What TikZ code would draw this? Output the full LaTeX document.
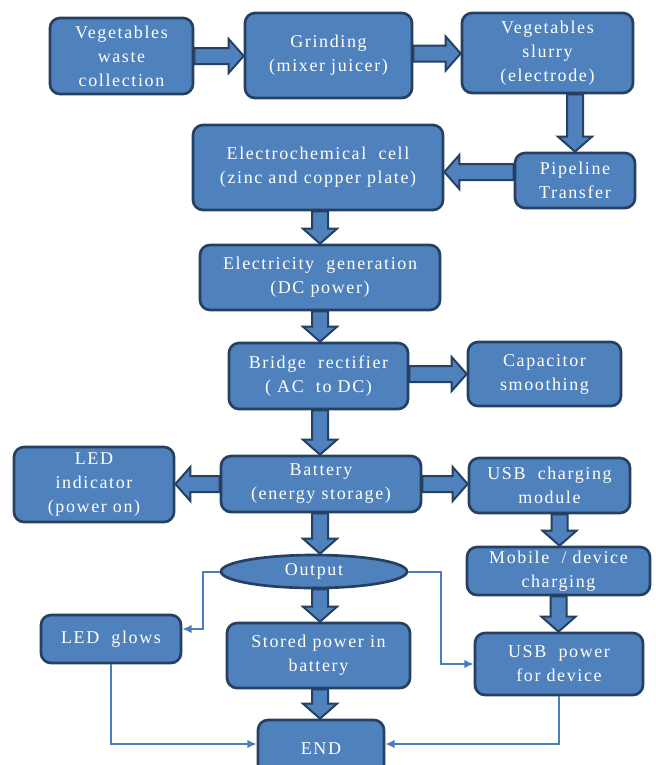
\documentclass[tikz,border=0pt]{standalone}
\usepackage{fontspec}
\newfontfamily\boxfont{Liberation Serif}[LetterSpace=9]
\usetikzlibrary{calc,shapes.geometric,arrows.meta}
\definecolor{boxfill}{HTML}{4F81BD}
\definecolor{boxline}{HTML}{254061}
\definecolor{thinline}{HTML}{4A7EBB}
\newcommand\fatH[2]{%
  \path[fatarrow] let \p1=#1, \p2=#2, \n1={(\x2>\x1)*2-1} in
   (\x1,{\y1+6pt}) -- ({\x2-(\n1)*11.25pt},{\y1+6pt}) -- ({\x2-(\n1)*11.25pt},{\y1+12.75pt})
   -- (\x2,\y1) -- ({\x2-(\n1)*11.25pt},{\y1-12.75pt}) -- ({\x2-(\n1)*11.25pt},{\y1-6pt})
   -- (\x1,{\y1-6pt}) -- cycle;}
\newcommand\fatV[2]{%
  \path[fatarrow] let \p1=#1, \p2=#2, \n1={(\y2>\y1)*2-1} in
   ({\x1+6pt},\y1) -- ({\x1+6pt},{\y2-(\n1)*11.25pt}) -- ({\x1+12.75pt},{\y2-(\n1)*11.25pt})
   -- (\x1,\y2) -- ({\x1-12.75pt},{\y2-(\n1)*11.25pt}) -- ({\x1-6pt},{\y2-(\n1)*11.25pt})
   -- ({\x1-6pt},\y1) -- cycle;}
\begin{document}
\begin{tikzpicture}[x=0.75pt,y=-0.75pt,
  box/.style={rectangle, rounded corners=7.5pt, draw=boxline, fill=boxfill, line width=2pt,
    text=white, font=\boxfont\fontsize{13.5pt}{18pt}\selectfont, align=center, inner sep=0pt},
  oval/.style={box, ellipse, rounded corners=0pt},
  fatarrow/.style={fill=boxfill, draw=boxline, line width=1.5pt, line join=miter},
  conn/.style={draw=thinline, line width=1.5pt, -{Latex[length=7pt,width=6.5pt]}}]
\useasboundingbox (0,0) rectangle (656,765);
\clip (0,0) rectangle (656,765);
\node[box, minimum width=107.25pt, minimum height=57pt] (veg) at (121.5,56) {Vegetables\\waste\\collection};
\node[box, minimum width=125.25pt, minimum height=63.75pt] (grind) at (328.5,55.5) {Grinding\\(mixer juicer)};
\node[box, minimum width=128.25pt, minimum height=60pt] (slurry) at (547.5,53) {Vegetables\\slurry\\(electrode)};
\node[box, minimum width=90pt, minimum height=41.25pt] (pipe) at (575,180.5) {Pipeline\\Transfer};
\node[box, minimum width=187.5pt, minimum height=63.75pt] (echem) at (318,167.5) {Electrochemical\ \ cell\\(zinc and copper plate)};
\node[box, minimum width=180pt, minimum height=48.75pt] (elec) at (320,277.5) {Electricity\ \ generation\\(DC power)};
\node[box, minimum width=134.25pt, minimum height=49.5pt] (bridge) at (318.5,376) {Bridge\ \ rectifier\\( AC\ \ to DC)};
\node[box, minimum width=114.75pt, minimum height=48pt] (cap) at (544.5,374) {Capacitor\\smoothing};
\node[box, minimum width=150pt, minimum height=42pt] (battery) at (321,484) {Battery\\(energy storage)};
\node[box, minimum width=120pt, minimum height=56.25pt] (ledind) at (94,484.5) {LED\\indicator\\(power on)};
\node[box, minimum width=120.75pt, minimum height=41.25pt] (usbmod) at (549.5,485.5) {USB\ \ charging\\module};
\node[oval, minimum width=139.5pt, minimum height=24.75pt] (output) at (314,571.5) {Output};
\node[box, minimum width=137.25pt, minimum height=36pt] (mobile) at (558.5,571) {Mobile\ \ / device\\charging};
\node[box, minimum width=105pt, minimum height=36pt] (ledglow) at (111,639) {LED\ \ glows};
\node[box, minimum width=137.25pt, minimum height=48.75pt] (stored) at (318.5,655.5) {Stored power in\\battery};
\node[box, minimum width=126pt, minimum height=46.5pt] (usbpow) at (559,664) {USB\ \ power\\for device};
\node[box, minimum width=94.5pt, minimum height=43.5pt] (end) at (321,749) {END};
\fatH{(veg.east)}{(grind.west)}
\fatH{($(grind.east)+(0,-2)$)}{(slurry.west)}
\fatV{(pipe.north |- slurry.south)}{(pipe.north)}
\fatH{($(pipe.west)+(0,-8.5)$)}{(echem.east)}
\fatV{($(echem.south)+(2,0)$)}{(elec.north)}
\fatV{(elec.south)}{(bridge.north)}
\fatH{($(bridge.east)+(0,-2)$)}{(cap.west)}
\fatV{($(bridge.south)+(1.5,0)$)}{(battery.north)}
\fatH{(battery.west)}{(ledind.east)}
\fatH{(battery.east)}{(usbmod.west)}
\fatV{($(battery.south)+(-1,0)$)}{(output.north)}
\fatV{($(usbmod.south)+(10,0)$)}{(mobile.north)}
\fatV{($(output.south)+(6,0)$)}{(stored.north)}
\fatV{(mobile.south)}{(usbpow.north)}
\fatV{($(stored.south)+(1.5,0)$)}{(end.north)}
\draw[conn] (output.west) -- ++(-17,0) |- ($(ledglow.east)+(0,-10)$);
\draw[conn] (output.east) -- ++(33,0) |- (usbpow.west);
\draw[conn] (ledglow.south) |- ($(end.west)+(0,-5)$);
\draw[conn] (usbpow.south) |- ($(end.east)+(0,-5)$);
\end{tikzpicture}
\end{document}
